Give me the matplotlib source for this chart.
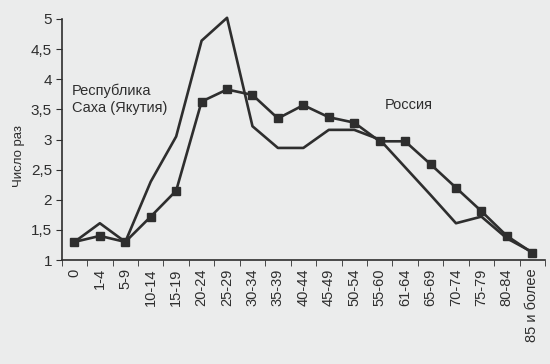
import matplotlib
matplotlib.use('Agg')
import matplotlib.pyplot as plt
import numpy as np

plt.rcParams['font.family'] = ['Liberation Sans', 'DejaVu Sans']

ages = ['0', '1-4', '5-9', '10-14', '15-19', '20-24', '25-29', '30-34', '35-39',
        '40-44', '45-49', '50-54', '55-60', '61-64', '65-69', '70-74', '75-79',
        '80-84', '85 и более']

# Республика Саха (Якутия) - line without markers
sakha = [1.3, 1.61, 1.3, 2.3, 3.05, 4.64, 5.02, 3.22, 2.86, 2.86, 3.16, 3.16,
         3.0, 2.54, 2.08, 1.61, 1.72, 1.36, 1.13]
# Россия - line with squares
russia = [1.3, 1.4, 1.3, 1.72, 2.15, 3.63, 3.83, 3.74, 3.35, 3.57, 3.37, 3.28,
          2.97, 2.97, 2.59, 2.2, 1.81, 1.4, 1.12]

yticks = [1, 1.5, 2, 2.5, 3, 3.5, 4, 4.5, 5]
ytick_labels = ['1', '1,5', '2', '2,5', '3', '3,5', '4', '4,5', '5']

bg = '#ebecec'
ink = '#2e2e2e'

fig = plt.figure(figsize=(5.5, 3.64), dpi=100, facecolor=bg)
ax = fig.add_axes([61.7/550, 1-260/364, (545-61.7)/550, (260-19)/364])
ax.set_facecolor(bg)

x = np.arange(len(ages))
ax.plot(x, sakha, color=ink, lw=1.9, clip_on=False)
ax.plot(x, russia, color=ink, lw=1.9, marker='s', markersize=6,
        markeredgecolor=ink, clip_on=False)

ax.set_xlim(-0.5, len(ages) - 0.5)
ax.set_ylim(1, 5)
ax.set_yticks(yticks)
ax.set_yticklabels(ytick_labels, fontsize=11, color=ink)
ax.set_xticks(x)
ax.set_xticklabels(ages, rotation=90, fontsize=10.5, color=ink)
ax.set_xticks(np.arange(len(ages) + 1) - 0.5, minor=True)
ax.tick_params(axis='x', which='major', length=0, pad=6)
ax.tick_params(axis='x', which='minor', length=4, color=ink, direction='out')
ax.tick_params(axis='y', length=4, color=ink, pad=3)

for s in ['top', 'right']:
    ax.spines[s].set_visible(False)
for s in ['left', 'bottom']:
    ax.spines[s].set_color(ink)
    ax.spines[s].set_linewidth(1.2)

ax.set_ylabel('Число раз', fontsize=9.5, color=ink)
ax.yaxis.set_label_coords(-0.075, 0.43)

ax.text(-0.1, 3.93, 'Республика\nСаха (Якутия)', fontsize=10.5, color=ink,
        va='top', ha='left', linespacing=1.3)
ax.text(13.15, 3.57, 'Россия', fontsize=10.5, color=ink, ha='center', va='center')

fig.savefig('out.png', dpi=100, facecolor=bg)
